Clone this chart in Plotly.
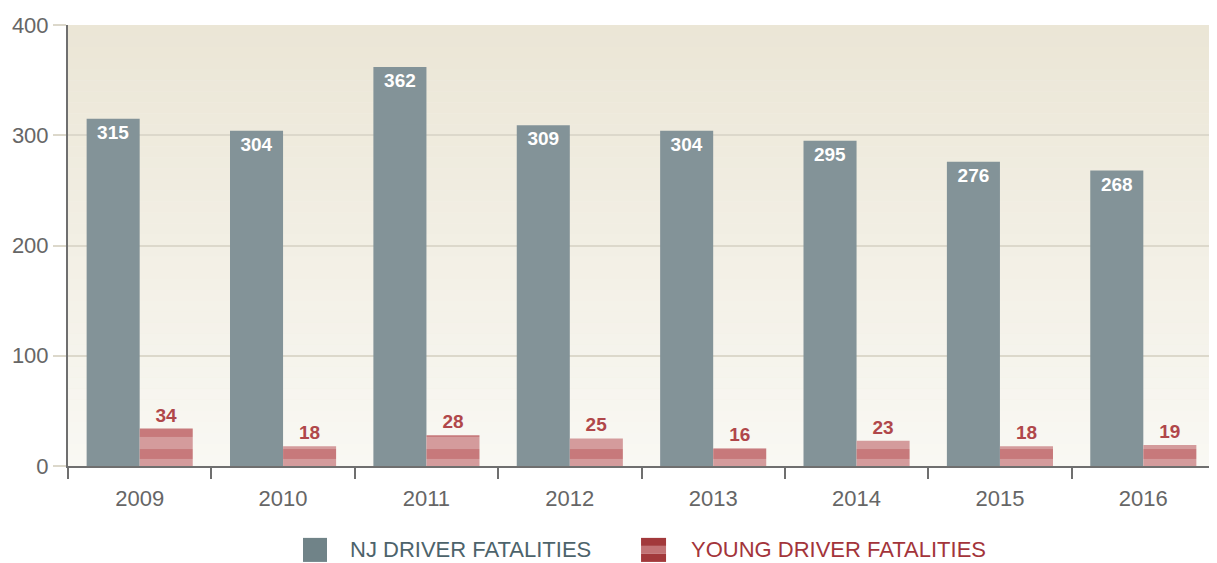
import plotly.graph_objects as go

years = ["2009", "2010", "2011", "2012", "2013", "2014", "2015", "2016"]
nj_fatalities = [315, 304, 362, 309, 304, 295, 276, 268]
young_fatalities = [34, 18, 28, 25, 16, 23, 18, 19]
y_ticks = [0, 100, 200, 300, 400]
legend_names = ["NJ DRIVER FATALITIES", "YOUNG DRIVER FATALITIES"]

NARROW = "Liberation Sans Narrow, Arial Narrow, Liberation Sans, sans-serif"
BOLD = "Liberation Sans, Arial, sans-serif"

fig = go.Figure()
fig.add_trace(go.Bar(
    x=years, y=nj_fatalities, name=legend_names[0],
    marker=dict(color="#839398", line=dict(width=0)),
    text=nj_fatalities, textposition="inside", insidetextanchor="end",
    textfont=dict(family=BOLD, size=19, color="white", weight="bold"),
    cliponaxis=False, showlegend=False,
))
fig.add_trace(go.Bar(
    x=years, y=young_fatalities, name=legend_names[1],
    marker=dict(color="#d49b9c", line=dict(width=0),
                pattern=dict(shape="-", fgcolor="#b9585a", bgcolor="#d49b9c",
                             size=22, solidity=0.45)),
    text=young_fatalities, textposition="outside",
    textfont=dict(family=BOLD, size=19, color="#b0474a", weight="bold"),
    cliponaxis=False, showlegend=False,
))

# background gradient inside plot area
n = 40
top = (235, 230, 214)
bot = (249, 248, 243)
shapes = []
for i in range(n):
    t = i / (n - 1)
    c = tuple(round(bot[k] + (top[k] - bot[k]) * t) for k in range(3))
    shapes.append(dict(type="rect", xref="paper", yref="y", x0=0, x1=1,
                       y0=400 * i / n, y1=400 * (i + 1) / n,
                       fillcolor="rgb(%d,%d,%d)" % c, line=dict(width=0),
                       layer="below"))

# custom legend (large swatches)
ly0, ly1 = -0.2175, -0.163
shapes.append(dict(type="rect", xref="paper", yref="paper", x0=0.2049, x1=0.2258,
                   y0=ly0, y1=ly1, fillcolor="#708388", line=dict(width=0)))
rx0, rx1 = 0.4996, 0.5214
h = (ly1 - ly0) / 3
for j, col in enumerate(["#a2393b", "#c27375", "#a2393b"]):
    shapes.append(dict(type="rect", xref="paper", yref="paper", x0=rx0, x1=rx1,
                       y0=ly0 + j * h, y1=ly0 + (j + 1) * h, fillcolor=col,
                       line=dict(width=0)))

annotations = [
    dict(xref="paper", yref="paper", x=0.2440, y=(ly0 + ly1) / 2, xanchor="left",
         yanchor="middle", text=legend_names[0], showarrow=False,
         font=dict(family=NARROW, size=22, color="#4d636b")),
    dict(xref="paper", yref="paper", x=0.5415, y=(ly0 + ly1) / 2, xanchor="left",
         yanchor="middle", text=legend_names[1], showarrow=False,
         font=dict(family=NARROW, size=22, color="#a3343a")),
]

# page body adds an 8px margin; compensate so the plot lands where the reference has it
fig.update_layout(
    width=1209, height=555,
    margin=dict(l=60, r=2, t=17, b=97),
    paper_bgcolor="white", plot_bgcolor="#f3f0e6",
    barmode="group", bargap=0.26, bargroupgap=0,
    shapes=shapes, annotations=annotations,
    showlegend=False,
    xaxis=dict(showgrid=False, showline=True, linecolor="#6f6f6f", linewidth=2,
               ticks="outside", tickson="boundaries", ticklen=11, tickwidth=2,
               tickcolor="#6f6f6f", automargin=False, ticklabelstandoff=12,
               tickfont=dict(family=NARROW, size=22, color="#666666")),
    yaxis=dict(range=[0, 400], tickvals=y_ticks, showgrid=True,
               gridcolor="#dcd8cb", gridwidth=2, showline=True,
               linecolor="#6f6f6f", linewidth=2, ticks="outside",
               ticklen=13, tickcolor="#dcd8cb", tickwidth=2, zeroline=False,
               automargin=False,
               tickfont=dict(family=NARROW, size=22, color="#666666")),
)

fig.write_html("out.html")
